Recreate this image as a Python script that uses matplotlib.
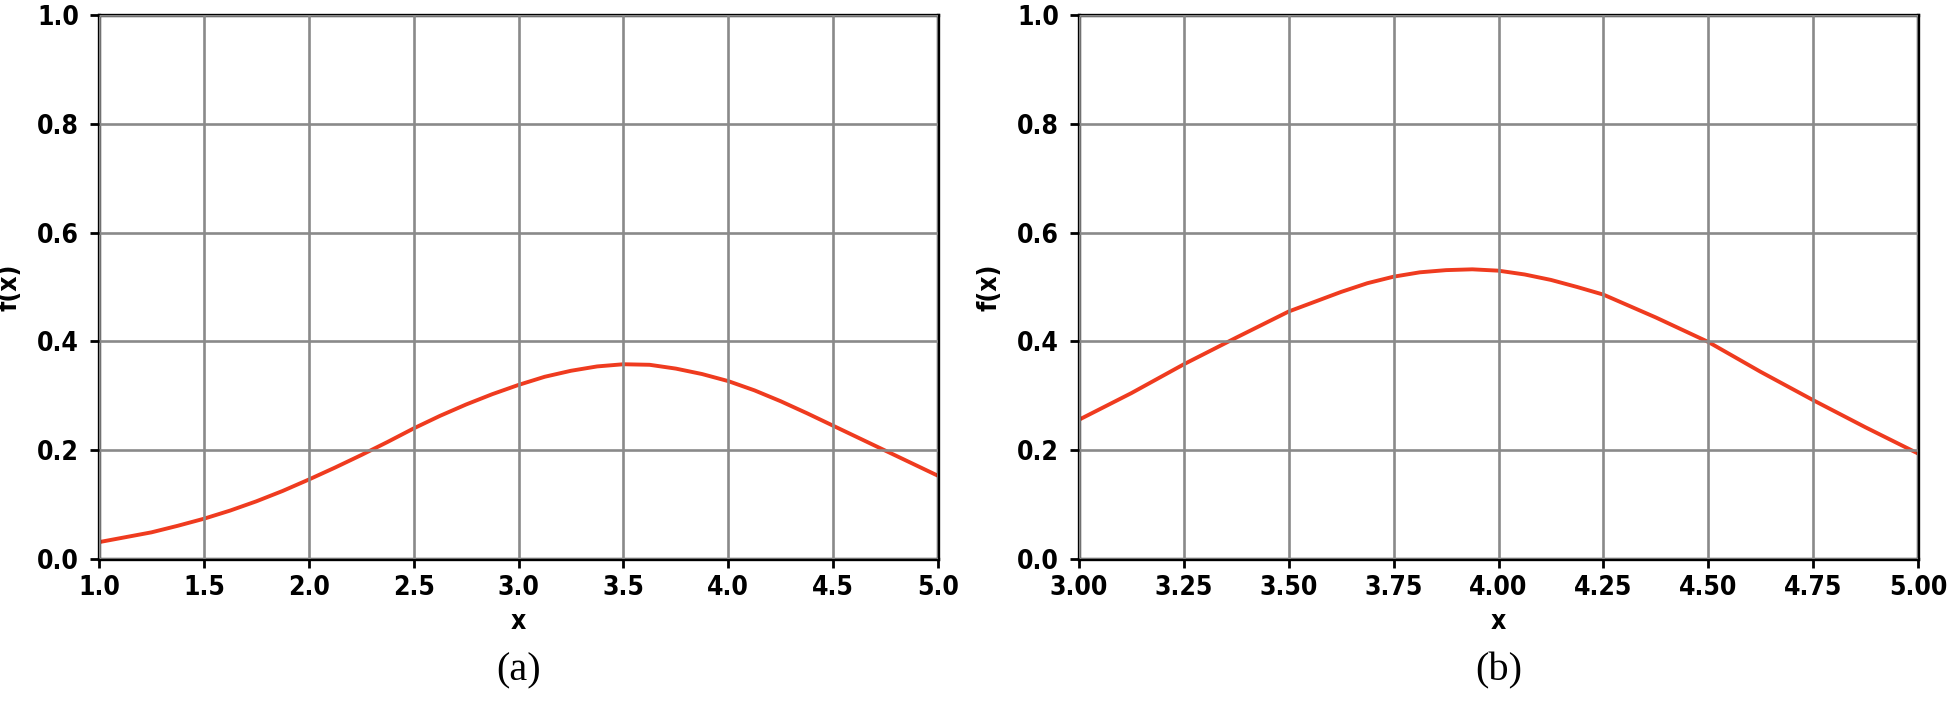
import numpy as np
import matplotlib
matplotlib.use("Agg")
import matplotlib.pyplot as plt

# values
x_a = [1.000, 1.125, 1.250, 1.375, 1.500, 1.625, 1.750, 1.875, 2.000,
       2.125, 2.250, 2.375, 2.500, 2.625, 2.750, 2.875, 3.000,
       3.125, 3.250, 3.375, 3.500, 3.625, 3.750, 3.875, 4.000,
       4.125, 4.250, 4.375, 4.500, 4.625, 4.750, 4.875, 5.000]
f_a = [0.031, 0.040, 0.049, 0.061, 0.074, 0.089, 0.106, 0.125, 0.146,
       0.168, 0.191, 0.215, 0.240, 0.263, 0.284, 0.303, 0.320,
       0.335, 0.346, 0.354, 0.358, 0.357, 0.350, 0.340, 0.327,
       0.310, 0.290, 0.268, 0.245, 0.222, 0.199, 0.176, 0.153]

x_b = [3.000, 3.125, 3.250, 3.375, 3.500, 3.625, 3.6875, 3.750, 3.8125,
       3.875, 3.9375, 4.000, 4.0625, 4.125, 4.1875, 4.250, 4.375,
       4.500, 4.625, 4.750, 4.875, 5.000]
f_b = [0.256, 0.305, 0.358, 0.407, 0.455, 0.491, 0.507, 0.519, 0.527,
       0.531, 0.5325, 0.530, 0.523, 0.513, 0.500, 0.486, 0.444,
       0.399, 0.344, 0.292, 0.242, 0.194]

xticks_a = [1.0, 1.5, 2.0, 2.5, 3.0, 3.5, 4.0, 4.5, 5.0]
xticks_b = [3.00, 3.25, 3.50, 3.75, 4.00, 4.25, 4.50, 4.75, 5.00]
yticks = [0.0, 0.2, 0.4, 0.6, 0.8, 1.0]
captions = ["(a)", "(b)"]

curve_color = "#ef3b1f"
tick_font = dict(family="DejaVu Sans", weight="bold", size=19, stretch="condensed")

W, H = 1950, 711
fig = plt.figure(figsize=(W / 100, H / 100), dpi=100)

# axes boxes in pixels: left, top, right, bottom
boxes = [(99, 15, 938, 559), (1079, 15, 1918, 559)]

panels = [(x_a, f_a, xticks_a, "{:.1f}"), (x_b, f_b, xticks_b, "{:.2f}")]

for (xs, ys, xt, fmt), (l, t, r, b), cap in zip(panels, boxes, captions):
    ax = fig.add_axes([l / W, (H - b) / H, (r - l) / W, (b - t) / H])
    ax.plot(xs, ys, color=curve_color, linewidth=2.8, zorder=2,
            solid_capstyle="butt", solid_joinstyle="round")
    ax.set_xlim(xt[0], xt[-1])
    ax.set_ylim(0, 1)
    ax.set_xticks(xt)
    ax.set_yticks(yticks)
    ax.set_xticklabels([fmt.format(v) for v in xt], fontdict=tick_font)
    ax.set_yticklabels(["{:.1f}".format(v) for v in yticks], fontdict=tick_font)
    ax.set_axisbelow(False)
    ax.grid(True, color="#8a8a8a", linewidth=1.9)
    for s in ax.spines.values():
        s.set_linewidth(2.4)
        s.set_color("black")
    ax.tick_params(axis="both", direction="out", length=6.5, width=2, colors="black")
    ax.tick_params(axis="x", pad=5)
    ax.tick_params(axis="y", pad=8)
    ax.set_xlabel("x", fontdict=tick_font, labelpad=6)
    ax.set_ylabel("f(x)", fontdict=tick_font, labelpad=10)
    fig.text((l + r) / 2 / W, (H - 671) / H, cap, family="Liberation Serif",
             size=29, ha="center", va="center")

fig.savefig("out.png", dpi=100)
